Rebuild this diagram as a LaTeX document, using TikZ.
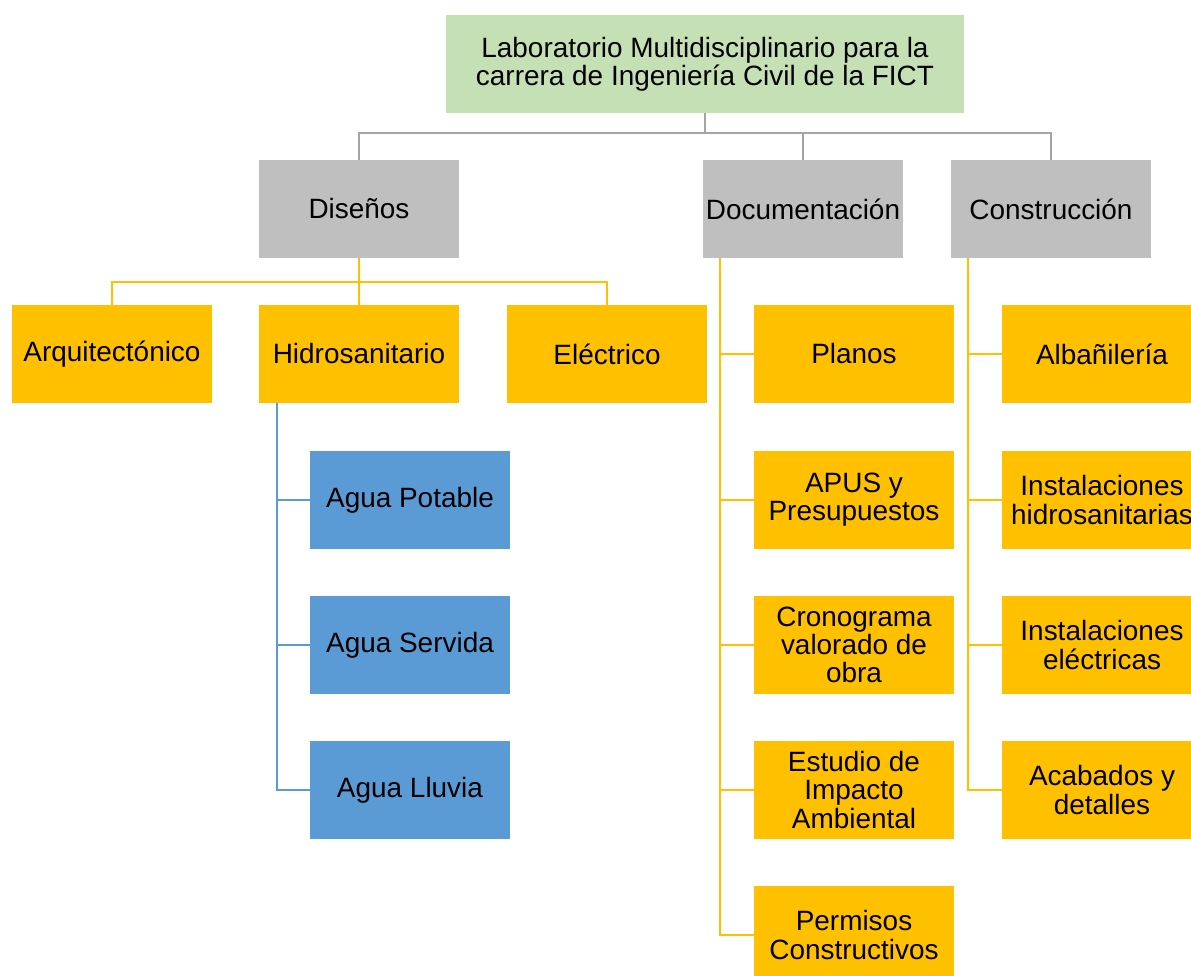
\documentclass[tikz,border=0pt]{standalone}
\usepackage{fontspec}
\setmainfont{Liberation Sans}
\usetikzlibrary{positioning,calc}
\definecolor{labGreen}   {RGB}{197,224,180}
\definecolor{areaGray}   {RGB}{191,191,191}
\definecolor{itemOrange} {RGB}{255,192,0}
\definecolor{waterBlue}  {RGB}{91, 155,213}
\definecolor{lineGray}   {RGB}{165,165,165}

\begin{document}
\begin{tikzpicture}[
    box/.style={minimum width=4cm,minimum height=1.96cm,inner sep=0pt,align=center,
                font=\fontsize{15.9}{16}\selectfont},
    areabox/.style={box,fill=areaGray},
    itembox/.style={box,fill=itemOrange},
    waterbox/.style={box,fill=waterBlue},
    grayline/.style={lineGray,line width=1.1pt},
    itemline/.style={itemOrange,line width=1.1pt},
    waterline/.style={waterBlue,line width=1.1pt}]
        \useasboundingbox (0,0) rectangle (23.82,-19.52);
        \node[box,fill=labGreen,minimum width=10.36cm] (lab) at (14.10,-1.28)
          {Laboratorio Multidisciplinario para la\\carrera de Ingeniería Civil de la FICT};
        \node[areabox] (dis) at (7.18,-4.18) {Diseños};
        \node[areabox] (doc) at (16.06,-4.18) {Documentación};
        \node[areabox] (con) at (21.02,-4.18) {Construcción};
        % disenos
        \node[itembox] (arq) at (2.24,-7.08) {Arquitectónico};
        \node[itembox] (hid) at (7.18,-7.08) {Hidrosanitario};
        \node[itembox] (ele) at (12.14,-7.08) {Eléctrico};
        \foreach \name/\txt/\y in {pot/Agua Potable/-10.00, ser/Agua Servida/-12.90, llu/Agua Lluvia/-15.80}
          \node[waterbox] (\name) at (8.20,\y) {\txt};
        % documentacion
        \foreach \name/\txt/\y in {pla/Planos/-7.08, apu/APUS y\\Presupuestos/-10.00,
            cro/Cronograma\\valorado de\\obra/-12.90, est/Estudio de\\Impacto\\Ambiental/-15.80,
            per/Permisos\\Constructivos/-18.70}
          \node[itembox] (\name) at (17.08,\y) {\txt};
        % construccion
        \foreach \name/\txt/\y in {alb/Albañilería/-7.08, ihs/Instalaciones\\hidrosanitarias/-10.00,
            iel/Instalaciones\\eléctricas/-12.90, aca/Acabados y\\detalles/-15.80}
          \node[itembox] (\name) at (22.04,\y) {\txt};

        \draw[grayline] (lab.south) -- ++(0,-0.4) coordinate (labbar);
        \draw[grayline] (dis.north) |- (labbar) -| (con.north);
        \draw[grayline] (doc.north) -- (doc.north |- labbar);
        \draw[itemline] (dis.south) -- ++(0,-0.48) coordinate (disbar);
        \draw[itemline] (arq.north) |- (disbar) -| (ele.north);
        \draw[itemline] (hid.north) -- (disbar);
        \foreach \n in {pot,ser,llu}
          \draw[waterline] ($(hid.south west)+(0.36,0)$) |- (\n.west);
        \foreach \n in {pla,apu,cro,est,per}
          \draw[itemline] ($(doc.south west)+(0.34,0)$) |- (\n.west);
        \foreach \n in {alb,ihs,iel,aca}
          \draw[itemline] ($(con.south west)+(0.34,0)$) |- (\n.west);
      \end{tikzpicture}
\end{document}
